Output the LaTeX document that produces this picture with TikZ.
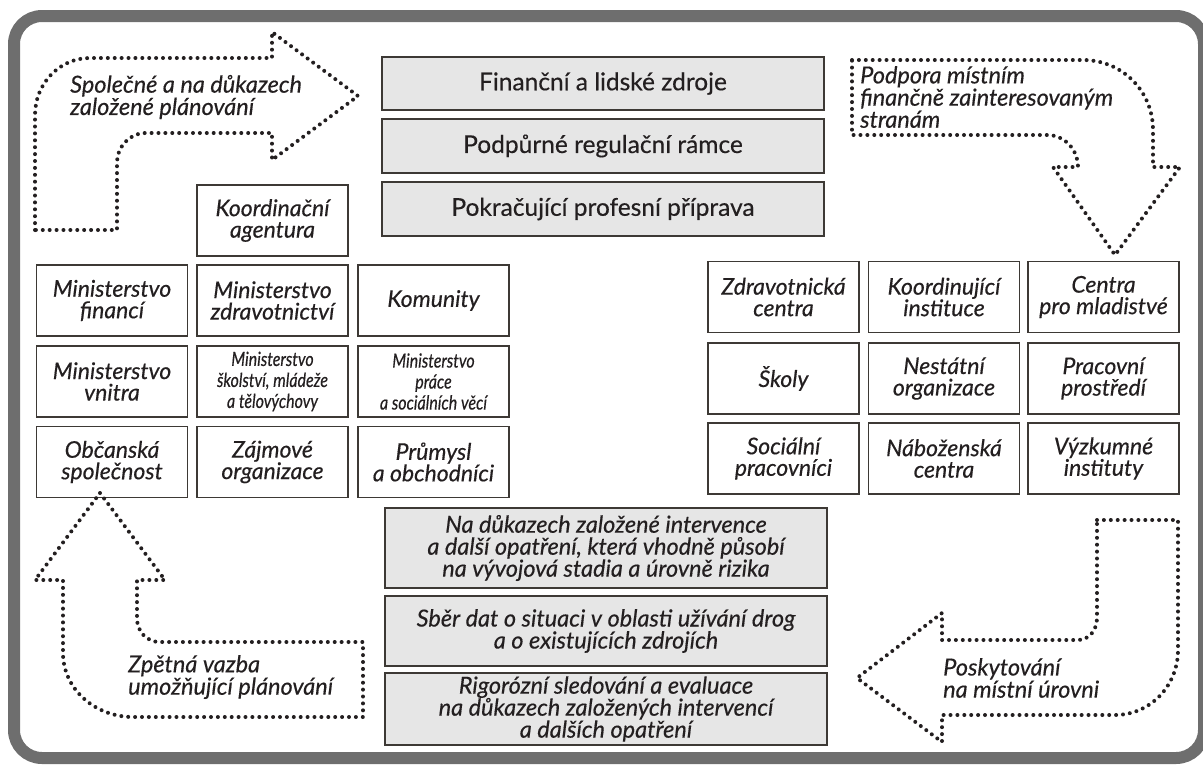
\documentclass[tikz,border=0pt]{standalone}
\usepackage{fontspec}
\setmainfont{Lato}[FakeBold=0.4]
\newfontfamily\narrowfont{Lato}[FakeStretch=0.82,FakeBold=0.4]
\usetikzlibrary{positioning}
\definecolor{framegray}{HTML}{6E6E6E}
\definecolor{boxline}{HTML}{3D3935}
\definecolor{boxfill}{HTML}{E6E6E6}
\definecolor{ink}{HTML}{231F20}

\tikzset{
  actor/.style={draw=boxline, line width=1.4pt, minimum width=151pt, minimum height=71pt,
    inner sep=0pt, align=center, text=ink, font=\fontsize{23}{21.5}\selectfont\itshape},
  narrow/.style={font=\narrowfont\fontsize{19.5}{21}\selectfont\itshape},
  layer/.style={draw=boxline, fill=boxfill, line width=1.4pt, minimum width=442pt,
    inner sep=0pt, align=center, text=ink},
  dotarrow/.style={draw=ink, line width=4pt, line cap=round, line join=round,
    dash pattern=on 0pt off 6.9pt},
  arrowtext/.style={anchor=west, align=left, inner sep=0pt, text=ink,
    font=\fontsize{23.5}{20}\selectfont\itshape}
}

\begin{document}
\begin{tikzpicture}[x=1pt,y=-1pt]
  \useasboundingbox (0,0) rectangle (1203,766);
  \draw[framegray, line width=12pt, rounded corners=28pt] (14,16) rectangle (1204,758);

  % resources on top
  \begin{scope}[font=\fontsize{24.5}{20}\selectfont]
    \node[layer, minimum height=53pt] (zdroje) at (603,83.5) {Finanční a lidské zdroje};
    \node[layer, minimum height=54pt] (ramce) at (603,146) {Podpůrné regulační rámce};
    \node[layer, minimum height=54pt] (priprava) at (603,209) {Pokračující profesní příprava};
  \end{scope}

  % national level
  \node[actor] (agentura) at (272.5,220.5) {Koordinační\\agentura};
  \node[actor] (mf) at (112,300.5) {Ministerstvo\\financí};
  \node[actor] (mz) at (272.5,300.5) {Ministerstvo\\zdravotnictví};
  \node[actor] (komunity) at (433.5,300.5) {Komunity};
  \node[actor] (mv) at (112,381.5) {Ministerstvo\\vnitra};
  \node[actor, narrow] (msmt) at (272.5,381.5) {Ministerstvo\\školství, mládeže\\a tělovýchovy};
  \node[actor, narrow] (mpsv) at (433.5,381.5) {Ministerstvo\\práce\\a sociálních věcí};
  \node[actor] (spolecnost) at (112,462) {Občanská\\společnost};
  \node[actor] (zajmove) at (272.5,462) {Zájmové\\organizace};
  \node[actor] (prumysl) at (433.5,462) {Průmysl\\a obchodníci};

  % local level
  \node[actor] (zdrav) at (783.5,297) {Zdravotnická\\centra};
  \node[actor] (koord) at (944,297) {Koordinující\\instituce};
  \node[actor] (mladi) at (1103.5,297) {Centra\\pro mladistvé};
  \node[actor] (skoly) at (783.5,378.5) {Školy};
  \node[actor] (nno) at (944,378.5) {Nestátní\\organizace};
  \node[actor] (prace) at (1103.5,378.5) {Pracovní\\prostředí};
  \node[actor] (socialni) at (783.5,458.5) {Sociální\\pracovníci};
  \node[actor] (nabozenska) at (944,458.5) {Náboženská\\centra};
  \node[actor] (vyzkum) at (1103.5,458.5) {Výzkumné\\instituty};

  % interventions at the bottom
  \begin{scope}[font=\fontsize{23.5}{22}\selectfont\itshape]
    \node[layer, minimum height=80pt] (intervence) at (606,548) {Na důkazech založené intervence\\a další opatření, která vhodně působí\\na vývojová stadia a úrovně rizika};
    \node[layer, minimum height=70pt] (data) at (606,631) {Sběr dat o situaci v oblasti užívání drog\\a o existujících zdrojích};
    \node[layer, minimum height=72pt] (evaluace) at (606,709) {Rigorózní sledování a evaluace\\na důkazech založených intervencí\\a dalších opatření};
  \end{scope}

  % dotted arrows
  \draw[dotarrow] (35,230) -- (35,115) .. controls (35,84) and (59,58) .. (90,58) -- (272,58)
    -- (272,32) -- (358,96) -- (272,160) -- (272,133) -- (145,133)
    .. controls (130,133) and (117,147) .. (117,162) -- (117,230) -- cycle;
  \draw[dotarrow] (852,60) -- (1083,60) .. controls (1122,60) and (1153,91) .. (1153,130)
    -- (1153,167) -- (1180,167) -- (1115,255) -- (1053,167) -- (1078,167)
    .. controls (1078,150) and (1065,135) .. (1047,135) -- (852,135) -- cycle;
  \draw[dotarrow] (100,493) -- (165,580) -- (137,580) -- (137,618)
    .. controls (137,632) and (147,642) .. (160,642) -- (363,642) -- (363,717) -- (133,717)
    .. controls (95,717) and (63,689) .. (63,653) -- (63,580) -- (35,580) -- cycle;
  \draw[dotarrow] (1097,520) -- (1178,520) -- (1178,650)
    .. controls (1178,686) and (1150,715) .. (1115,715) -- (942,715) -- (942,742)
    -- (857,678) -- (942,613) -- (942,640) -- (1078,640)
    .. controls (1089,640) and (1097,630) .. (1097,618) -- cycle;

  \node[arrowtext] (planovani) at (70,97) {Společné a na důkazech\\založené plánování};
  \node[arrowtext] (podpora) at (860,97) {Podpora místním\\finančně zainteresovaným\\stranám};
  \node[arrowtext] (vazba) at (128,677) {Zpětná vazba\\umožňující plánování};
  \node[arrowtext] (poskytovani) at (943,678) {Poskytování\\na místní úrovni};
\end{tikzpicture}
\end{document}
